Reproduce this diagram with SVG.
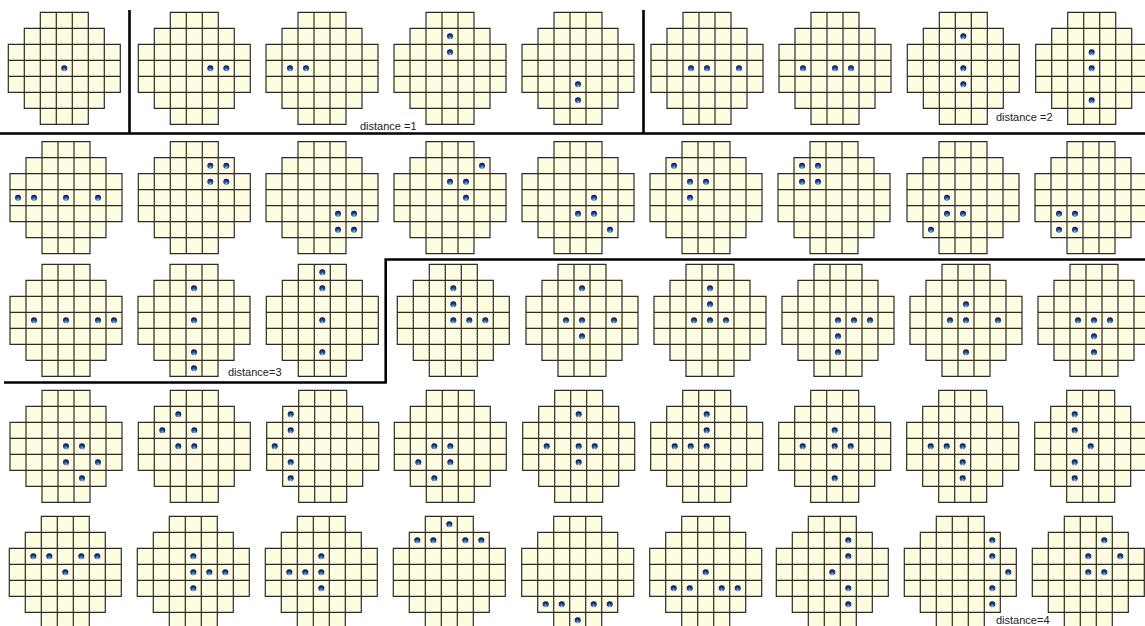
<svg xmlns="http://www.w3.org/2000/svg" xmlns:xlink="http://www.w3.org/1999/xlink" width="1145" height="626" viewBox="0 0 1145 626">
<style>
.bf{fill:#fffde0;stroke:none}
.bg{fill:none;stroke:#2b2b2b;stroke-width:1.2}
.pg{fill:url(#pgrad)}
.div{stroke:#000;stroke-width:2.6;fill:none}
.lbl{font-family:"Liberation Sans",Arial,sans-serif;font-size:11px;fill:#222}
</style>
<defs>
<radialGradient id="pgrad" cx="50%" cy="72%" r="62%" fx="50%" fy="85%">
<stop offset="0" stop-color="#8fd8ff"/>
<stop offset="0.4" stop-color="#2466c8"/>
<stop offset="1" stop-color="#081650"/>
</radialGradient>
<g id="board">
<path class="bf" d="M32,0H80V16H96V32H112V80H96V96H80V112H32V96H16V80H0V32H16V16H32Z"/>
<path class="bg" d="M32,0H80V16H96V32H112V80H96V96H80V112H32V96H16V80H0V32H16V16H32Z M16,16H96 M0,32H112 M0,48H112 M0,64H112 M0,80H112 M16,96H96 M16,16V96 M32,0V112 M48,0V112 M64,0V112 M80,0V112 M96,16V96"/>
</g>
</defs>
<rect width="1145" height="626" fill="#fff"/>

<g id="connectors">
<path class="div" d="M129.5,10V134 M0,133.5H1145 M643.5,10V134"/>
<path class="div" d="M4,382.5H386 M385.7,383.5V259.5 H1145"/>
</g>

<g id="labels">
<text class="lbl" x="360" y="130">distance =1</text>
<text class="lbl" x="996" y="121">distance =2</text>
<text class="lbl" x="228" y="376">distance=3</text>
<text class="lbl" x="996" y="624">distance=4</text>
</g>

<!-- Row 1 -->
<g id="r1b1" transform="translate(8.3,12.3)"><use href="#board"/><circle class="pg" cx="56" cy="56" r="3"/></g>
<g id="r1b2" transform="translate(138.3,12.3)"><use href="#board"/><circle class="pg" cx="72" cy="56" r="3"/><circle class="pg" cx="88" cy="56" r="3"/></g>
<g id="r1b3" transform="translate(266,12.3)"><use href="#board"/><circle class="pg" cx="24" cy="56" r="3"/><circle class="pg" cx="40" cy="56" r="3"/></g>
<g id="r1b4" transform="translate(394,12.3)"><use href="#board"/><circle class="pg" cx="56" cy="24" r="3"/><circle class="pg" cx="56" cy="40" r="3"/></g>
<g id="r1b5" transform="translate(522,12.3)"><use href="#board"/><circle class="pg" cx="56" cy="72" r="3"/><circle class="pg" cx="56" cy="88" r="3"/></g>
<g id="r1b6" transform="translate(651,12.3)"><use href="#board"/><circle class="pg" cx="40" cy="56" r="3"/><circle class="pg" cx="56" cy="56" r="3"/><circle class="pg" cx="88" cy="56" r="3"/></g>
<g id="r1b7" transform="translate(779,12.3)"><use href="#board"/><circle class="pg" cx="24" cy="56" r="3"/><circle class="pg" cx="56" cy="56" r="3"/><circle class="pg" cx="72" cy="56" r="3"/></g>
<g id="r1b8" transform="translate(907.3,12.3)"><use href="#board"/><circle class="pg" cx="56" cy="24" r="3"/><circle class="pg" cx="56" cy="56" r="3"/><circle class="pg" cx="56" cy="72" r="3"/></g>
<g id="r1b9" transform="translate(1035.7,12.3)"><use href="#board"/><circle class="pg" cx="56" cy="40" r="3"/><circle class="pg" cx="56" cy="56" r="3"/><circle class="pg" cx="56" cy="88" r="3"/></g>

<!-- Row 2 -->
<g id="r2b1" transform="translate(10,141.7)"><use href="#board"/><circle class="pg" cx="8" cy="56" r="3"/><circle class="pg" cx="24" cy="56" r="3"/><circle class="pg" cx="56" cy="56" r="3"/><circle class="pg" cx="88" cy="56" r="3"/></g>
<g id="r2b2" transform="translate(138.3,141.7)"><use href="#board"/><circle class="pg" cx="72" cy="24" r="3"/><circle class="pg" cx="88" cy="24" r="3"/><circle class="pg" cx="72" cy="40" r="3"/><circle class="pg" cx="88" cy="40" r="3"/></g>
<g id="r2b3" transform="translate(266,141.7)"><use href="#board"/><circle class="pg" cx="72" cy="72" r="3"/><circle class="pg" cx="88" cy="72" r="3"/><circle class="pg" cx="72" cy="88" r="3"/><circle class="pg" cx="88" cy="88" r="3"/></g>
<g id="r2b4" transform="translate(394,141.7)"><use href="#board"/><circle class="pg" cx="88" cy="24" r="3"/><circle class="pg" cx="56" cy="40" r="3"/><circle class="pg" cx="72" cy="40" r="3"/><circle class="pg" cx="72" cy="56" r="3"/></g>
<g id="r2b5" transform="translate(522,141.7)"><use href="#board"/><circle class="pg" cx="72" cy="56" r="3"/><circle class="pg" cx="56" cy="72" r="3"/><circle class="pg" cx="72" cy="72" r="3"/><circle class="pg" cx="88" cy="88" r="3"/></g>
<g id="r2b6" transform="translate(650,141.7)"><use href="#board"/><circle class="pg" cx="24" cy="24" r="3"/><circle class="pg" cx="40" cy="40" r="3"/><circle class="pg" cx="56" cy="40" r="3"/><circle class="pg" cx="40" cy="56" r="3"/></g>
<g id="r2b7" transform="translate(778,141.7)"><use href="#board"/><circle class="pg" cx="24" cy="24" r="3"/><circle class="pg" cx="40" cy="24" r="3"/><circle class="pg" cx="24" cy="40" r="3"/><circle class="pg" cx="40" cy="40" r="3"/></g>
<g id="r2b8" transform="translate(907,141.7)"><use href="#board"/><circle class="pg" cx="40" cy="56" r="3"/><circle class="pg" cx="40" cy="72" r="3"/><circle class="pg" cx="56" cy="72" r="3"/><circle class="pg" cx="24" cy="88" r="3"/></g>
<g id="r2b9" transform="translate(1035,141.7)"><use href="#board"/><circle class="pg" cx="24" cy="72" r="3"/><circle class="pg" cx="40" cy="72" r="3"/><circle class="pg" cx="24" cy="88" r="3"/><circle class="pg" cx="40" cy="88" r="3"/></g>

<!-- Row 3 -->
<g id="r3b1" transform="translate(10,264.3)"><use href="#board"/><circle class="pg" cx="24" cy="56" r="3"/><circle class="pg" cx="56" cy="56" r="3"/><circle class="pg" cx="88" cy="56" r="3"/><circle class="pg" cx="104" cy="56" r="3"/></g>
<g id="r3b2" transform="translate(138,264.3)"><use href="#board"/><circle class="pg" cx="56" cy="24" r="3"/><circle class="pg" cx="56" cy="56" r="3"/><circle class="pg" cx="56" cy="88" r="3"/><circle class="pg" cx="56" cy="104" r="3"/></g>
<g id="r3b3" transform="translate(266.3,264.3)"><use href="#board"/><circle class="pg" cx="56" cy="8" r="3"/><circle class="pg" cx="56" cy="24" r="3"/><circle class="pg" cx="56" cy="56" r="3"/><circle class="pg" cx="56" cy="88" r="3"/></g>
<g id="r3b4" transform="translate(397.3,264.3)"><use href="#board"/><circle class="pg" cx="56" cy="24" r="3"/><circle class="pg" cx="56" cy="40" r="3"/><circle class="pg" cx="56" cy="56" r="3"/><circle class="pg" cx="72" cy="56" r="3"/><circle class="pg" cx="88" cy="56" r="3"/></g>
<g id="r3b5" transform="translate(526,264.3)"><use href="#board"/><circle class="pg" cx="56" cy="24" r="3"/><circle class="pg" cx="40" cy="56" r="3"/><circle class="pg" cx="56" cy="56" r="3"/><circle class="pg" cx="88" cy="56" r="3"/><circle class="pg" cx="56" cy="72" r="3"/></g>
<g id="r3b6" transform="translate(654,264.3)"><use href="#board"/><circle class="pg" cx="56" cy="24" r="3"/><circle class="pg" cx="56" cy="40" r="3"/><circle class="pg" cx="40" cy="56" r="3"/><circle class="pg" cx="56" cy="56" r="3"/><circle class="pg" cx="72" cy="56" r="3"/></g>
<g id="r3b7" transform="translate(782,264.3)"><use href="#board"/><circle class="pg" cx="56" cy="56" r="3"/><circle class="pg" cx="72" cy="56" r="3"/><circle class="pg" cx="88" cy="56" r="3"/><circle class="pg" cx="56" cy="72" r="3"/><circle class="pg" cx="56" cy="88" r="3"/></g>
<g id="r3b8" transform="translate(910,264.3)"><use href="#board"/><circle class="pg" cx="56" cy="40" r="3"/><circle class="pg" cx="40" cy="56" r="3"/><circle class="pg" cx="56" cy="56" r="3"/><circle class="pg" cx="88" cy="56" r="3"/><circle class="pg" cx="56" cy="88" r="3"/></g>
<g id="r3b9" transform="translate(1038,264.3)"><use href="#board"/><circle class="pg" cx="40" cy="56" r="3"/><circle class="pg" cx="56" cy="56" r="3"/><circle class="pg" cx="72" cy="56" r="3"/><circle class="pg" cx="56" cy="72" r="3"/><circle class="pg" cx="56" cy="88" r="3"/></g>

<!-- Row 4 -->
<g id="r4b1" transform="translate(10,390.3)"><use href="#board"/><circle class="pg" cx="56" cy="56" r="3"/><circle class="pg" cx="72" cy="56" r="3"/><circle class="pg" cx="56" cy="72" r="3"/><circle class="pg" cx="88" cy="72" r="3"/><circle class="pg" cx="72" cy="88" r="3"/></g>
<g id="r4b2" transform="translate(138.3,390.3)"><use href="#board"/><circle class="pg" cx="40" cy="24" r="3"/><circle class="pg" cx="24" cy="40" r="3"/><circle class="pg" cx="56" cy="40" r="3"/><circle class="pg" cx="40" cy="56" r="3"/><circle class="pg" cx="56" cy="56" r="3"/></g>
<g id="r4b3" transform="translate(266.7,390.3)"><use href="#board"/><circle class="pg" cx="24" cy="24" r="3"/><circle class="pg" cx="24" cy="40" r="3"/><circle class="pg" cx="8" cy="56" r="3"/><circle class="pg" cx="24" cy="72" r="3"/><circle class="pg" cx="24" cy="88" r="3"/></g>
<g id="r4b4" transform="translate(394.3,390.3)"><use href="#board"/><circle class="pg" cx="40" cy="56" r="3"/><circle class="pg" cx="56" cy="56" r="3"/><circle class="pg" cx="24" cy="72" r="3"/><circle class="pg" cx="56" cy="72" r="3"/><circle class="pg" cx="40" cy="88" r="3"/></g>
<g id="r4b5" transform="translate(522.7,390.3)"><use href="#board"/><circle class="pg" cx="56" cy="24" r="3"/><circle class="pg" cx="24" cy="56" r="3"/><circle class="pg" cx="56" cy="56" r="3"/><circle class="pg" cx="72" cy="56" r="3"/><circle class="pg" cx="56" cy="72" r="3"/></g>
<g id="r4b6" transform="translate(650.7,390.3)"><use href="#board"/><circle class="pg" cx="56" cy="24" r="3"/><circle class="pg" cx="56" cy="40" r="3"/><circle class="pg" cx="24" cy="56" r="3"/><circle class="pg" cx="40" cy="56" r="3"/><circle class="pg" cx="56" cy="56" r="3"/></g>
<g id="r4b7" transform="translate(778.7,390.3)"><use href="#board"/><circle class="pg" cx="56" cy="40" r="3"/><circle class="pg" cx="24" cy="56" r="3"/><circle class="pg" cx="56" cy="56" r="3"/><circle class="pg" cx="72" cy="56" r="3"/><circle class="pg" cx="56" cy="88" r="3"/></g>
<g id="r4b8" transform="translate(906.7,390.3)"><use href="#board"/><circle class="pg" cx="24" cy="56" r="3"/><circle class="pg" cx="40" cy="56" r="3"/><circle class="pg" cx="56" cy="56" r="3"/><circle class="pg" cx="56" cy="72" r="3"/><circle class="pg" cx="56" cy="88" r="3"/></g>
<g id="r4b9" transform="translate(1034.7,390.3)"><use href="#board"/><circle class="pg" cx="40" cy="24" r="3"/><circle class="pg" cx="40" cy="40" r="3"/><circle class="pg" cx="56" cy="56" r="3"/><circle class="pg" cx="40" cy="72" r="3"/><circle class="pg" cx="40" cy="88" r="3"/></g>

<!-- Row 5 -->
<g id="r5b1" transform="translate(9.3,516.3)"><use href="#board"/><circle class="pg" cx="24" cy="40" r="3"/><circle class="pg" cx="40" cy="40" r="3"/><circle class="pg" cx="72" cy="40" r="3"/><circle class="pg" cx="88" cy="40" r="3"/><circle class="pg" cx="56" cy="56" r="3"/></g>
<g id="r5b2" transform="translate(137.3,516.3)"><use href="#board"/><circle class="pg" cx="56" cy="40" r="3"/><circle class="pg" cx="56" cy="56" r="3"/><circle class="pg" cx="72" cy="56" r="3"/><circle class="pg" cx="88" cy="56" r="3"/><circle class="pg" cx="56" cy="72" r="3"/></g>
<g id="r5b3" transform="translate(265.3,516.3)"><use href="#board"/><circle class="pg" cx="56" cy="40" r="3"/><circle class="pg" cx="24" cy="56" r="3"/><circle class="pg" cx="40" cy="56" r="3"/><circle class="pg" cx="56" cy="56" r="3"/><circle class="pg" cx="56" cy="72" r="3"/></g>
<g id="r5b4" transform="translate(393.3,516.3)"><use href="#board"/><circle class="pg" cx="56" cy="8" r="3"/><circle class="pg" cx="24" cy="24" r="3"/><circle class="pg" cx="40" cy="24" r="3"/><circle class="pg" cx="72" cy="24" r="3"/><circle class="pg" cx="88" cy="24" r="3"/></g>
<g id="r5b5" transform="translate(521.7,516.3)"><use href="#board"/><circle class="pg" cx="24" cy="88" r="3"/><circle class="pg" cx="40" cy="88" r="3"/><circle class="pg" cx="72" cy="88" r="3"/><circle class="pg" cx="88" cy="88" r="3"/><circle class="pg" cx="56" cy="104" r="3"/></g>
<g id="r5b6" transform="translate(649.7,516.3)"><use href="#board"/><circle class="pg" cx="56" cy="56" r="3"/><circle class="pg" cx="24" cy="72" r="3"/><circle class="pg" cx="40" cy="72" r="3"/><circle class="pg" cx="72" cy="72" r="3"/><circle class="pg" cx="88" cy="72" r="3"/></g>
<g id="r5b7" transform="translate(776.3,516.3)"><use href="#board"/><circle class="pg" cx="72" cy="24" r="3"/><circle class="pg" cx="72" cy="40" r="3"/><circle class="pg" cx="56" cy="56" r="3"/><circle class="pg" cx="72" cy="72" r="3"/><circle class="pg" cx="72" cy="88" r="3"/></g>
<g id="r5b8" transform="translate(904.3,516.3)"><use href="#board"/><circle class="pg" cx="88" cy="24" r="3"/><circle class="pg" cx="88" cy="40" r="3"/><circle class="pg" cx="104" cy="56" r="3"/><circle class="pg" cx="88" cy="72" r="3"/><circle class="pg" cx="88" cy="88" r="3"/></g>
<g id="r5b9" transform="translate(1032.3,516.3)"><use href="#board"/><circle class="pg" cx="72" cy="24" r="3"/><circle class="pg" cx="56" cy="40" r="3"/><circle class="pg" cx="88" cy="40" r="3"/><circle class="pg" cx="56" cy="56" r="3"/><circle class="pg" cx="72" cy="56" r="3"/></g>
</svg>
